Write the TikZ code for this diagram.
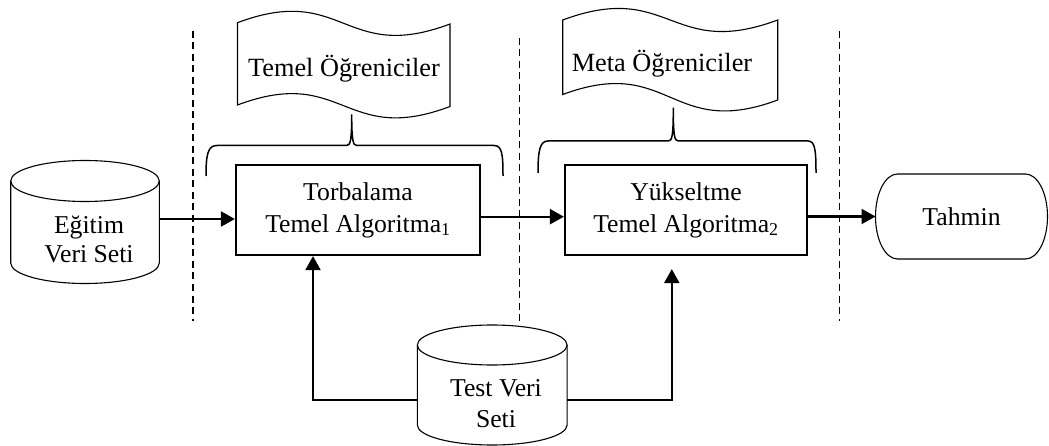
\documentclass[tikz,border=0pt]{standalone}
\usepackage{fontspec}
\setmainfont{Liberation Serif}
\usetikzlibrary{arrows.meta}
\tikzset{
  txt/.style={font=\fontsize{25.7pt}{31pt}\selectfont, inner sep=0pt, outer sep=0pt, align=center},
  doctxt/.style={font=\fontsize{26.3pt}{31pt}\selectfont, inner sep=0pt, outer sep=0pt},
  boxnode/.style={draw, line width=2.2pt, minimum height=90pt, inner sep=0pt, align=center,
                  font=\fontsize{25.7pt}{31pt}\selectfont},
  ghost/.style={draw=none, inner sep=0pt, outer sep=0pt},
  arr/.style={line width=2.2pt, -{Triangle[length=14pt,width=15pt]}},
  thinline/.style={line width=1.1pt},
  braceline/.style={line width=1.5pt},
  sepline/.style={line width=1.6pt, dash pattern=on 7pt off 4.5pt},
}
\begin{document}
\begin{tikzpicture}[x=1pt,y=-1pt]
\fill[white] (0,0) rectangle (1049,446);
\useasboundingbox (0,0) rectangle (1049,446);

% separators
\draw[sepline] (192.7,31) -- (192.7,321);
\draw[sepline] (519.3,38) -- (519.3,325);
\draw[sepline] (839.3,31) -- (839.3,321);

% Egitim Veri Seti cylinder
\node[ghost, minimum width=148.6pt, minimum height=122.8pt] (egc) at (85,222) {};
\draw[thinline] (85,181) ellipse [x radius=74.3pt, y radius=20.5pt];
\draw[thinline] (10.7,181) -- (10.7,263) arc[start angle=180, end angle=360, x radius=74.3pt, y radius=20.5pt] -- (159.3,181);
\node[txt] (egt) at (89,239.7) {Eğitim\\[-2pt]Veri Seti};

% Test Veri Seti cylinder
\node[ghost, minimum width=149.8pt, minimum height=120pt] (tc) at (492.2,385) {};
\draw[thinline] (492.2,345) ellipse [x radius=74.9pt, y radius=20pt];
\draw[thinline] (417.3,345) -- (417.3,425) arc[start angle=180, end angle=360, x radius=74.9pt, y radius=20pt] -- (567.1,345);
\node[txt] (tt) at (496,403.7) {Test Veri\\Seti};

% boxes
\node[boxnode, minimum width=244pt] (b1) at (358,210) {Torbalama\\[1pt]Temel Algoritma\textsubscript{1}};
\node[boxnode, minimum width=242pt] (b2) at (686,210) {Yükseltme\\[1pt]Temel Algoritma\textsubscript{2}};

% Tahmin terminal
\node[ghost, minimum width=172pt, minimum height=85pt, font=\fontsize{25.7pt}{31pt}\selectfont] (tah) at (961.5,216.5) {Tahmin};
\draw[thinline] ([xshift=22pt]tah.north west) -- ([xshift=-22pt]tah.north east)
  arc[start angle=90, end angle=-90, x radius=22pt, y radius=42.5pt]
  -- ([xshift=22pt]tah.south west)
  arc[start angle=270, end angle=90, x radius=22pt, y radius=42.5pt] -- cycle;

% documents
\draw[thinline] (237.5,22.7) .. controls (343.75,-17.3) and (343.75,64) .. (450,24)
  -- (450,106.5) .. controls (343.75,146.5) and (343.75,65) .. (237.5,105) -- cycle;
\node[doctxt, anchor=base] (tdoc) at (344,77) {Temel Öğreniciler};
\draw[thinline] (562.7,20) .. controls (670.2,-20) and (670.2,60) .. (777.7,20)
  -- (777.7,100) .. controls (670.2,140) and (670.2,54.5) .. (562.7,94.5) -- cycle;
\node[doctxt, anchor=base] (mdoc) at (662,72) {Meta Öğreniciler};

% braces
\draw[braceline] (206,176) .. controls (206,154) and (208,145.5) .. (217,145.5)
  -- (346.7,145.5) .. controls (350.5,145.5) and (351.7,140) .. (351.7,114.3)
  .. controls (351.7,140) and (352.9,145.5) .. (356.7,145.5)
  -- (494,145.5) .. controls (502,145.5) and (503,154) .. (503,176);
\draw[braceline] (538,173) .. controls (538,150) and (540,141) .. (548,141)
  -- (668.3,141) .. controls (672.1,141) and (673.3,136) .. (673.3,107.7)
  .. controls (673.3,136) and (674.5,141) .. (678.3,141)
  -- (808,141) .. controls (815,141) and (816,150) .. (816,173);

% connectors
\draw[arr] ([yshift=3pt]egc.east) -- ([yshift=3pt]egc.east -| b1.west);
\draw[arr] ([yshift=-6.7pt]b1.east) -- ([yshift=-6.7pt]b1.east -| b2.west);
\draw[arr] (b2.east |- tah.west) -- (tah.west);
\draw[arr] ([yshift=-15pt]tc.west) -| ([xshift=-45pt]b1.south);
\draw[arr] ([yshift=-15pt]tc.east) -| ([xshift=-14.2pt,yshift=-13pt]b2.south);
\end{tikzpicture}
\end{document}
